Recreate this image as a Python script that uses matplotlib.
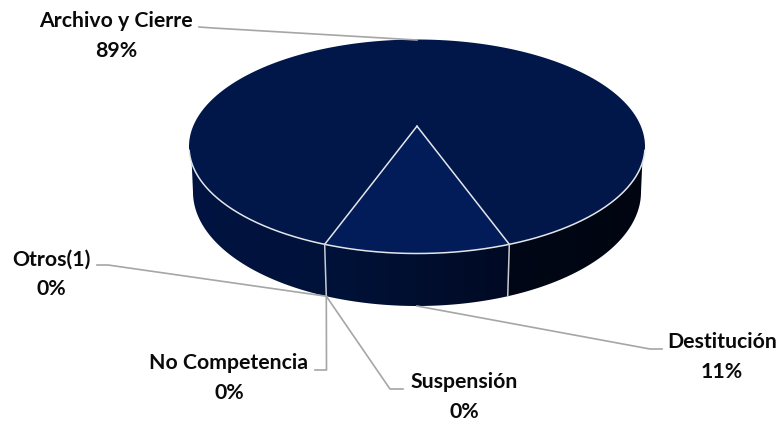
import numpy as np
import matplotlib
matplotlib.use("Agg")
import matplotlib.pyplot as plt
from matplotlib.patches import Polygon
from matplotlib.colors import LinearSegmentedColormap

categories = ["Archivo y Cierre", "Destitución", "Suspensión", "No Competencia", "Otros(1)"]
values = [89, 11, 0, 0, 0]
labels_pct = ["89%", "11%", "0%", "0%", "0%"]

plt.rcParams['font.family'] = ['Lato', 'DejaVu Sans']
fig = plt.figure(figsize=(7.78, 4.21), dpi=100)
ax = fig.add_axes([0, 0, 1, 1])
ax.set_xlim(0, 778); ax.set_ylim(421, 0); ax.axis('off')

CX, CY, A, B = 417, 146.5, 228, 107
BY, BA, BB = 192, 224, 114
S = -0.19

def project(theta):
    u, v = np.sin(np.radians(theta)), np.cos(np.radians(theta))
    w = 1 + S * v
    return np.sqrt(1 - S**2) * u / w, (v + S) / w

def top(theta):
    x, y = project(theta)
    return CX + A * x, CY + B * y

def bottom(theta):
    x, y = project(theta)
    return CX + BA * x, BY + BB * y

def fan(t0, t1, n=200):
    return np.linspace(t0, t1, n)

half = values[1] / sum(values) * 360 / 2
apex = (CX, CY + B * S)

ts = fan(-100, 100, 400)
bx, by = bottom(ts)
bx, by = bx[by >= BY], by[by >= BY]
wall = np.column_stack([np.r_[bx, CX + A - 2, CX, CX - A + 2], np.r_[by, CY, CY, CY]])
cmap = LinearSegmentedColormap.from_list(
    "side", [(0, "#001340"), (0.30, "#00123a"), (0.42, "#001033"), (0.70, "#000a24"),
             (0.705, "#000716"), (1, "#000511")])
im = ax.imshow(np.linspace(0, 1, 256)[None, :], cmap=cmap, aspect='auto',
               extent=(CX - BA - 3, CX + BA + 3, 320, 30), zorder=1)
poly = Polygon(wall, closed=True, fc='none', ec='none', transform=ax.transData)
ax.add_patch(poly)
im.set_clip_path(poly)
ax.set_xlim(0, 778); ax.set_ylim(421, 0)

main_t = fan(half, 360 - half, 500)
mx, my = top(main_t)
ax.add_patch(Polygon(np.column_stack([np.r_[apex[0], mx], np.r_[apex[1], my]]), closed=True,
                     fc="#01174a", ec='none', zorder=2))
small_t = fan(-half, half, 100)
sx, sy = top(small_t)
ax.add_patch(Polygon(np.column_stack([np.r_[apex[0], sx], np.r_[apex[1], sy]]), closed=True,
                     fc="#011c58", ec='none', zorder=3))

EDGE = "#e4e6ea"
ex, ey = top(fan(-77, 77, 300))
ax.plot(ex, ey, color=EDGE, lw=1.1, zorder=4)
for t in (-half, half):
    x, y = top(t)
    ax.plot([apex[0], x], [apex[1], y], color=EDGE, lw=1.1, zorder=4)
    x2, y2 = bottom(t)
    ax.plot([x, x2], [y, y2], color="#c8ccd2", lw=1.1, zorder=4)

LEAD = "#a6a6a6"
seam = bottom(-half)
leaders = [
    [(199, 27), (213, 28), (417, 40)],
    [(662, 349), (650, 349), (417, 306)],
    [(403, 389), (390, 389), seam],
    [(315, 370), (326.5, 370), seam],
    [(97, 265), (108, 265), seam],
]
for pts in leaders:
    p = np.array([(float(a), float(b)) for a, b in pts])
    ax.plot(p[:, 0], p[:, 1], color=LEAD, lw=1.2, zorder=5, solid_joinstyle='round')

positions = [(116, 36), (722, 357), (464, 397), (229, 378), (51, 274)]
for (x, y), c, p in zip(positions, categories, labels_pct):
    ax.text(x, y, f"{c}\n{p}", ha='center', va='center', fontsize=15.3, fontweight='bold',
            color='#0a0a0a', linespacing=1.6, zorder=6)

fig.savefig("out.png", dpi=100, facecolor='white')
